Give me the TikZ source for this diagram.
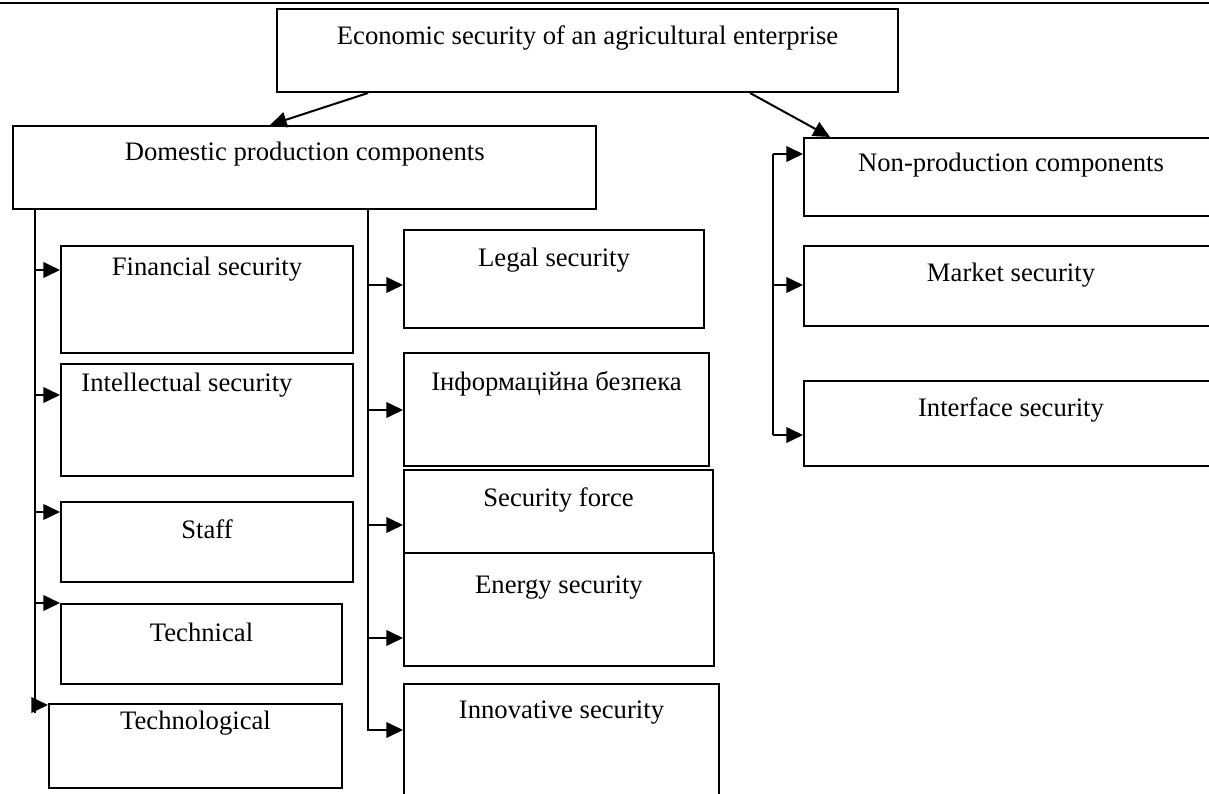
\documentclass[tikz,border=0pt]{standalone}
\usepackage{fontspec}
\setmainfont{Liberation Serif}
\usetikzlibrary{arrows.meta}

\begin{document}
\begin{tikzpicture}[x=0.45pt, y=-0.45pt, font=\fontsize{12}{14}\selectfont,
    part/.style={draw, line width=0.9pt, rectangle, anchor=north west, inner sep=0pt},
    boxsize/.style 2 args={minimum width=#1*0.45pt, minimum height=#2*0.45pt},
    toptext/.style={anchor=center, yshift=-#1*0.45pt-1pt},
    conn/.style={-{Triangle[length=7.5pt,width=7pt]}, line width=0.9pt},
    trunk/.style={line width=0.9pt}]
    \useasboundingbox (0,0) rectangle (1209,794);
    \clip (0,0) rectangle (1209,794);

    \draw[line width=1pt] (0,3) -- (1209,3);

    \node[part, boxsize={621}{83}, label={[toptext=28]north:Economic security of an agricultural enterprise}] (econ) at (276,8) {};
    \node[part, boxsize={583}{83}, line width=1.1pt, label={[toptext=27]north:Domestic production components}] (dom) at (12,125) {};

    % left column
    \node[part, boxsize={292}{107}, label={[toptext=22]north:Financial security}] (fin) at (60,245) {};
    \node[part, boxsize={292}{112}, label={[toptext=20, xshift=-9pt]north:Intellectual security}] (intel) at (60,363) {};
    \node[part, boxsize={292}{80}, label={[toptext=26]north:Staff}] (staff) at (60,501) {};
    \node[part, boxsize={281}{80}, label={[toptext=27]north:Technical}] (tech) at (60,603) {};
    \node[part, boxsize={293}{84}, label={[toptext=18]north:Technological}] (techno) at (48,703) {};

    % middle column
    \node[part, boxsize={300}{98}, label={[toptext=29]north:Legal security}] (legal) at (403,229) {};
    \node[part, boxsize={305}{113}, label={[toptext=30]north:Інформаційна безпека}] (info) at (403,352) {};
    \node[part, boxsize={309}{83}, label={[toptext=29]north:Security force}] (force) at (403,469) {};
    \node[part, boxsize={310}{113}, label={[toptext=33]north:Energy security}] (energy) at (403,552) {};
    \node[part, boxsize={315}{130}, label={[toptext=27]north:Innovative security}] (innov) at (403,683) {};

    % right column
    \node[part, boxsize={414}{78}, label={[toptext=26]north:Non-production components}] (nonprod) at (803,137) {};
    \node[part, boxsize={414}{80}, label={[toptext=28]north:Market security}] (market) at (803,245) {};
    \node[part, boxsize={414}{85}, label={[toptext=28]north:Interface security}] (iface) at (803,380) {};

    \draw[conn] (econ.south -| 368,0) -- (dom.north -| 270,0);
    \draw[conn] (econ.south -| 750,0) -- (nonprod.north -| 830,0);

    \coordinate (lend) at (35,713);
    \coordinate (mend) at (368,731);
    \coordinate (rtop) at (773,154);
    \coordinate (rend) at (773,435);

    \draw[trunk] (dom.south -| lend) -- (lend);
    \draw[trunk] (dom.south -| mend) -- (mend);
    \draw[trunk] (rtop) -- (rend);

    \draw[conn] (lend |- 0,270) -- (fin.west |- 0,270);
    \draw[conn] (lend |- 0,395) -- (intel.west |- 0,395);
    \draw[conn] (lend |- 0,512) -- (staff.west |- 0,512);
    \draw[conn] (lend |- 0,603) -- (tech.west |- 0,603);
    \draw[conn] (lend |- 0,705) -- (techno.west |- 0,705);

    \draw[conn] (mend |- 0,285) -- (legal.west |- 0,285);
    \draw[conn] (mend |- 0,410) -- (info.west |- 0,410);
    \draw[conn] (mend |- 0,525) -- (force.west |- 0,525);
    \draw[conn] (mend |- 0,638) -- (energy.west |- 0,638);
    \draw[conn] (mend |- 0,730) -- (innov.west |- 0,730);

    \draw[conn] (rtop) -- (nonprod.west |- rtop);
    \draw[conn] (rtop |- 0,285) -- (market.west |- 0,285);
    \draw[conn] (rend) -- (iface.west |- rend);

\end{tikzpicture}
\end{document}
